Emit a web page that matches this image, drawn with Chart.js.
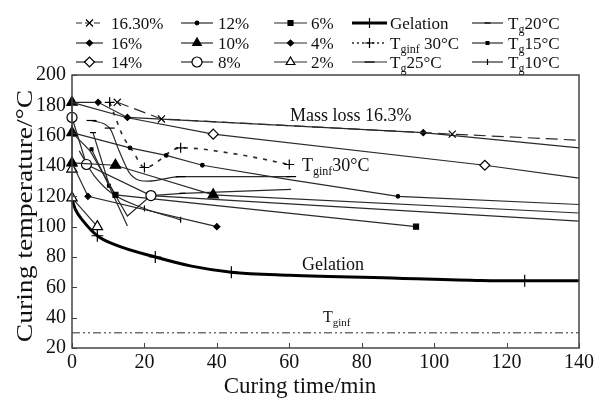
<!DOCTYPE html>
<html>
<head>
<meta charset="utf-8">
<script src="https://cdn.jsdelivr.net/npm/chart.js@4.4.1/dist/chart.umd.min.js"></script>
<style>
  html, body { margin: 0; padding: 0; background: #fff; }
</style>
</head>
<body>
<canvas id="c" width="597" height="398"></canvas>
<script>
// axis ticks
const xTicks = [0, 20, 40, 60, 80, 100, 120, 140];
const yTicks = [20, 40, 60, 80, 100, 120, 140, 160, 180, 200];

// series, [time (min), temperature (C)]
const pct1630 = [[12.5, 182], [24.7, 171], [105, 161], [140, 157]];
const pct16 = [[0, 182], [7.2, 182], [15.3, 172], [97, 162], [140, 152]];
const pct14 = [[0, 182], [15, 172], [39, 161], [114, 140.5], [140, 132]];
const pct12 = [[0, 162], [16, 152], [26, 147], [36, 140.5], [60, 131], [90, 120], [140, 114.6]];
const pct10 = [[0, 182], [0, 162], [0, 142], [12, 140.5], [39, 121], [140, 109]];
const pct8 = [[0, 172], [4, 141], [21.8, 120.5], [140, 103.6]];
const pct6 = [[0, 162], [5, 150], [12, 121], [95, 100]];
const pct4 = [[0, 142], [4.4, 120], [40, 100]];
const pct2 = [[0, 138], [0, 119], [7, 100]];
const gelation = [[0, 118], [1, 111], [3, 104], [7, 94], [12, 88], [23, 80], [33, 74], [44, 70],
                  [60, 68], [90, 66], [113, 64.5], [125, 64.3], [140, 64.3]];
const tginf30 = [[10.4, 182], [12, 172], [14, 160], [17, 149], [20, 139], [30, 152], [45, 148], [60, 141]];
const tg25 = [[5.4, 170], [10.4, 165], [13, 150], [16, 135], [21, 130], [30, 133], [60.5, 133]];
const tg20 = [[5.8, 162], [10.2, 128], [15.3, 107], [21.8, 120.5], [30.5, 122], [60.5, 124.6]];
const tg15 = [[5.4, 151], [10.2, 127], [15.3, 100.5]];
const tg10 = [[2, 150], [6, 134], [11, 122], [20, 112], [30, 104.5]];
const tginf = [[0, 30], [140, 30]];

const INK = '#2a2a2a';

// legend order is column by column, 3 rows each
const series = [
  { label: '16.30%', data: pct1630, shape: 'crossRot', r: 5, filled: false, dash: [12, 6], marks: [0, 1, 2] },
  { label: '16%', data: pct16, shape: 'rectRot', r: 3, filled: true, dash: [], marks: [1, 2, 3] },
  { label: '14%', data: pct14, shape: 'rectRot', r: 5, filled: false, dash: [], marks: [2, 3] },
  { label: '12%', data: pct12, shape: 'circle', r: 1.8, filled: true, dash: [], marks: [1, 2, 3, 5] },
  { label: '10%', data: pct10, shape: 'triangle', r: 6, filled: true, dash: [], marks: [0, 1, 2, 3, 4] },
  { label: '8%', data: pct8, shape: 'circle', r: 5, filled: false, dash: [], marks: [0, 1, 2] },
  { label: '6%', data: pct6, shape: 'rect', r: 3.5, filled: true, dash: [], marks: [2, 3] },
  { label: '4%', data: pct4, shape: 'rectRot', r: 3, filled: true, dash: [], marks: [1, 2] },
  { label: '2%', data: pct2, shape: 'triangle', r: 6, filled: false, dash: [], marks: [0, 1, 2] },
  { label: 'Gelation', data: gelation, shape: 'cross', r: 6, filled: false, dash: [], marks: [3, 5, 7, 11], width: 3, smooth: true },
  { label: 'Tginf 30°C', data: tginf30, shape: 'cross', r: 5, filled: false, dash: [4, 6], marks: [0, 4, 5, 7], smooth: true, width: 1.6 },
  { label: 'Tg25°C', data: tg25, shape: 'line', r: 5, filled: false, dash: [], marks: [0, 1, 5, 6], smooth: true },
  { label: 'Tg20°C', data: tg20, shape: 'line', r: 3, filled: false, dash: [], marks: [0, 4] },
  { label: 'Tg15°C', data: tg15, shape: 'rect', r: 2, filled: true, dash: [], marks: [0, 1], smooth: true },
  { label: 'Tg10°C', data: tg10, shape: 'line', r: 3, rot: 90, filled: false, dash: [], marks: [3, 4], smooth: true }
];

const datasets = series.map(s => ({
  label: s.label,
  data: s.data.map(p => ({ x: p[0], y: p[1] })),
  borderColor: s.label === 'Gelation' ? '#000' : INK,
  borderWidth: s.width || 1.2,
  borderDash: s.dash,
  pointStyle: s.shape,
  pointRotation: s.rot || 0,
  pointRadius: ctx => s.marks.includes(ctx.dataIndex) ? s.r : 0,
  pointBorderWidth: 1.2,
  pointBorderColor: '#000',
  pointBackgroundColor: s.filled ? '#000' : '#fff',
  cubicInterpolationMode: s.smooth ? 'monotone' : 'default',
  tension: 0,
  clip: false
}));
datasets.push({
  label: 'Tginf',
  data: tginf.map(p => ({ x: p[0], y: p[1] })),
  borderColor: INK,
  borderWidth: 1,
  borderDash: [8, 3, 2, 3, 2, 3],
  pointRadius: 0,
  clip: false
});

function richText(ctx, label, x, y, size, subSize) {
  // T with subscript g / ginf
  let parts;
  const m = label.match(/^T(ginf|g)(.*)$/);
  if (m) parts = [['T', false], [m[1], true], [m[2], false]];
  else parts = [[label, false]];
  ctx.textBaseline = 'alphabetic';
  ctx.textAlign = 'left';
  for (const [t, sub] of parts) {
    ctx.font = (sub ? subSize : size) + 'px "Liberation Serif"';
    ctx.fillText(t, x, y + (sub ? 4 : 0));
    x += ctx.measureText(t).width;
  }
}

const decor = {
  id: 'decor',
  afterDraw(chart) {
    const ctx = chart.ctx;
    const a = chart.chartArea;
    const xs = chart.scales.x, ys = chart.scales.y;
    ctx.save();
    // frame
    ctx.strokeStyle = '#444';
    ctx.lineWidth = 1.5;
    ctx.strokeRect(a.left, a.top, a.right - a.left, a.bottom - a.top);
    // inside ticks
    ctx.lineWidth = 1;
    ctx.beginPath();
    xTicks.forEach(v => {
      const px = Math.round(xs.getPixelForValue(v)) + 0.5;
      ctx.moveTo(px, a.bottom); ctx.lineTo(px, a.bottom - 5);
    });
    yTicks.forEach(v => {
      const py = Math.round(ys.getPixelForValue(v)) + 0.5;
      ctx.moveTo(a.left, py); ctx.lineTo(a.left + 5, py);
    });
    ctx.stroke();

    ctx.fillStyle = '#111';
    // axis titles
    ctx.font = '23px "Liberation Serif"';
    ctx.textAlign = 'center';
    ctx.textBaseline = 'alphabetic';
    ctx.fillText('Curing time/min', 300, 393);
    ctx.save();
    ctx.translate(32, 216);
    ctx.rotate(-Math.PI / 2);
    ctx.scale(1.2, 1);
    ctx.fillText('Curing temperature/°C', 0, 0);
    ctx.restore();

    // annotations
    ctx.font = '18px "Liberation Serif"';
    ctx.textAlign = 'left';
    ctx.fillText('Mass loss 16.3%', 290, 121);
    richText(ctx, 'Tginf30°C', 302, 171, 18, 12);
    ctx.font = '18px "Liberation Serif"';
    ctx.fillText('Gelation', 302, 270);
    richText(ctx, 'Tginf', 323, 322, 16, 11);

    // legend, 5 columns x 3 rows
    const cols = [[76, 103, 111], [181, 213, 218], [274, 307, 311], [352, 387, 390], [472, 503, 508]];
    const rows = [23, 43, 62];
    series.forEach((s, i) => {
      const c = cols[Math.floor(i / 3)], yy = rows[i % 3];
      ctx.strokeStyle = s.label === 'Gelation' ? '#000' : INK;
      ctx.lineWidth = s.width || 1.2;
      ctx.setLineDash(s.dash.map(d => d * 0.5));
      ctx.beginPath(); ctx.moveTo(c[0], yy); ctx.lineTo(c[1], yy); ctx.stroke();
      ctx.setLineDash([]);
      ctx.lineWidth = 1.2;
      ctx.strokeStyle = '#000';
      ctx.fillStyle = s.filled ? '#000' : '#fff';
      Chart.helpers.drawPoint(ctx, { pointStyle: s.shape, radius: Math.min(s.r, 5), rotation: s.rot || 0, borderWidth: 1.2 },
        (c[0] + c[1]) / 2, yy);
      ctx.fillStyle = '#111';
      richText(ctx, s.label, c[2], yy + 6, 17, 12);
    });
    ctx.restore();
  }
};

new Chart(document.getElementById('c'), {
  type: 'line',
  data: { datasets },
  options: {
    responsive: false,
    animation: false,
    layout: { padding: { top: 75, right: 14, left: 0, bottom: 0 } },
    plugins: { legend: { display: false }, tooltip: { enabled: false } },
    scales: {
      x: {
        type: 'linear', min: 0, max: 140,
        afterBuildTicks: s => { s.ticks = xTicks.map(v => ({ value: v })); },
        afterFit: s => { s.height = 50; },
        grid: { display: false, drawTicks: false },
        border: { display: false },
        ticks: { color: '#111', padding: 3, font: { family: 'Liberation Serif', size: 20 }, maxRotation: 0 }
      },
      y: {
        type: 'linear', min: 20, max: 200,
        afterBuildTicks: s => { s.ticks = yTicks.map(v => ({ value: v })); },
        afterFit: s => { s.width = 72; },
        grid: { display: false, drawTicks: false },
        border: { display: false },
        ticks: { color: '#111', padding: 6, font: { family: 'Liberation Serif', size: 20 } }
      }
    }
  },
  plugins: [decor]
});
</script>
</body>
</html>
